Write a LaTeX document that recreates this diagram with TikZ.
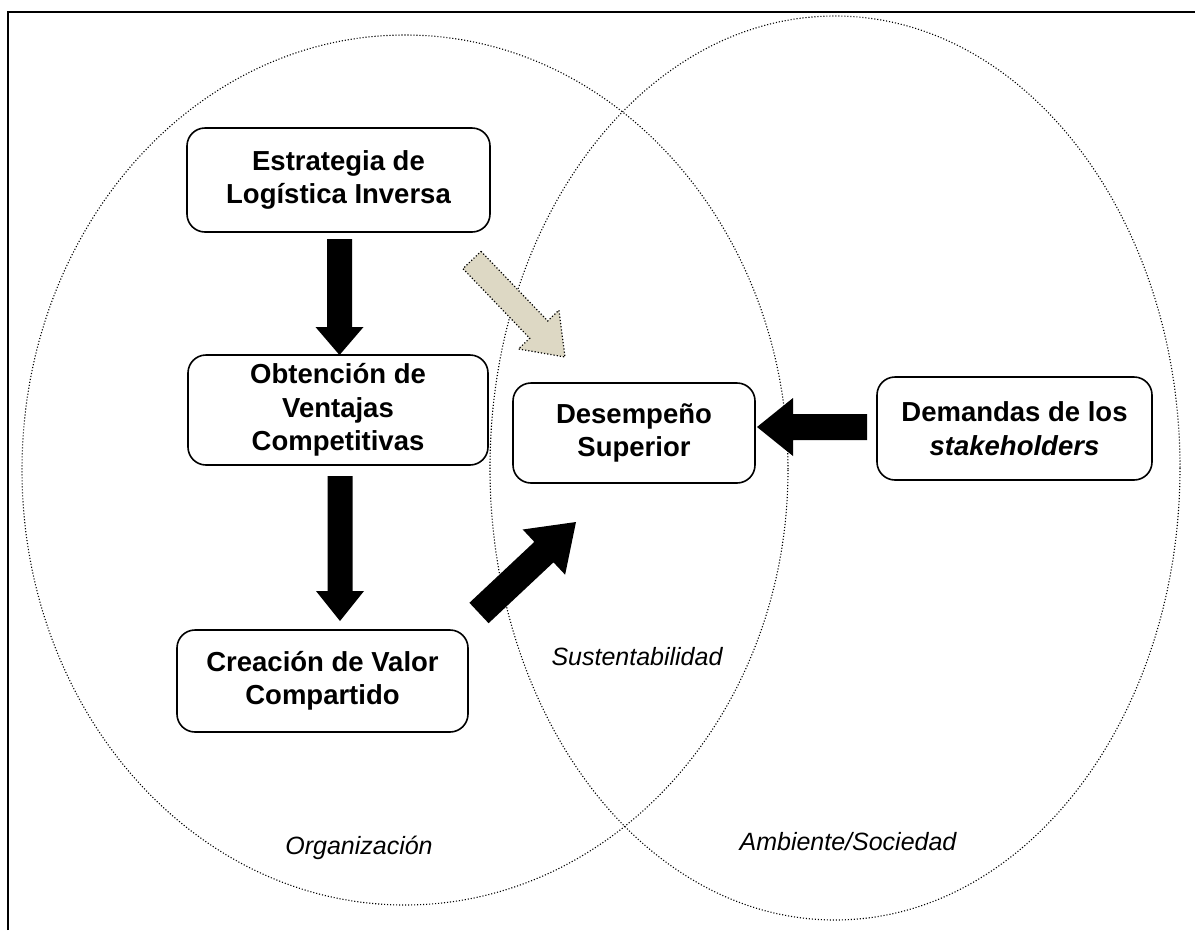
\documentclass[tikz,border=0pt]{standalone}
\usepackage{fontspec}
\setmainfont{Liberation Sans}
\usetikzlibrary{calc}
\definecolor{sandfill}{HTML}{DDD8C4}

% Block arrow from #2 (tail) to #3 (tip):
% #4 half shaft width, #5 half head width, #6 head length
\newcommand\blockarrow[6][]{%
  \coordinate (hb) at ($(#3)!#6!(#2)$);
  \path[#1] ($(#2)!#4!90:(#3)$) -- ($(hb)!#4!90:(#3)$) -- ($(hb)!#5!90:(#3)$)
    -- (#3) -- ($(hb)!#5!-90:(#3)$) -- ($(hb)!#4!-90:(#3)$)
    -- ($(#2)!#4!-90:(#3)$) -- cycle;
}

\begin{document}
\begin{tikzpicture}[x=1pt,y=-1pt,
  box/.style={draw, line width=1.6pt, rounded corners=18pt, align=center,
    font=\bfseries\fontsize{27.5}{33.5}\selectfont, inner sep=0pt},
  region/.style={draw, line width=1.1pt, dash pattern=on 1.1pt off 1.9pt},
  tag/.style={font=\itshape\fontsize{25}{29}\selectfont},
  solidarrow/.style={fill=black},
  softarrow/.style={fill=sandfill, draw, line width=1.2pt, dash pattern=on 1.2pt off 2pt}]
\useasboundingbox (0,0) rectangle (1195,930);

% outer frame
\draw[line width=2pt] (8,930) -- (8,12) -- (1195,12);

% the two overlapping regions
\draw[region] (405,470) ellipse [x radius=383, y radius=435];
\draw[region] (835,468) ellipse [x radius=345, y radius=452];

% boxes
\node[box, minimum width=303pt, minimum height=104pt] (estr) at (338.5,180) {Estrategia de\\Logística Inversa};
\node[box, minimum width=300pt, minimum height=110pt] (obt) at (338,410) {Obtención de\\Ventajas\\Competitivas};
\node[box, minimum width=291pt, minimum height=102pt] (crea) at (322.5,681) {Creación de Valor\\Compartido};
\node[box, minimum width=242pt, minimum height=100pt] (des) at (634,433) {Desempeño\\Superior};
\node[box, minimum width=275pt, minimum height=103pt] (dem) at (1014.5,428.5) {Demandas de los\\\textit{stakeholders}};

% region labels
\node[tag] (sus) at (637,657) {Sustentabilidad};
\node[tag] (org) at (359,848) {Organización};
\node[tag] (amb) at (848,842) {Ambiente/Sociedad};

% arrow end points
\coordinate (a1t) at (339.5,239);
\coordinate (a1h) at (339.5,355);
\coordinate (a2t) at (340,476);
\coordinate (a2h) at (340,621);
\coordinate (a3t) at (867,427);
\coordinate (a3h) at (757,427);
\coordinate (a4t) at (479,613);
\coordinate (a4h) at (576,522);
\coordinate (a5t) at (472,260);
\coordinate (a5h) at (565,357);

% arrows
\blockarrow[solidarrow]{a1t}{a1h}{12.5pt}{24pt}{28pt}
\blockarrow[solidarrow]{a2t}{a2h}{12.5pt}{24pt}{30pt}
\blockarrow[solidarrow]{a3t}{a3h}{13pt}{29pt}{36pt}
\blockarrow[solidarrow]{a4t}{a4h}{14pt}{31pt}{44pt}
\blockarrow[softarrow]{a5t}{a5h}{12.5pt}{28pt}{38pt}
\end{tikzpicture}
\end{document}
